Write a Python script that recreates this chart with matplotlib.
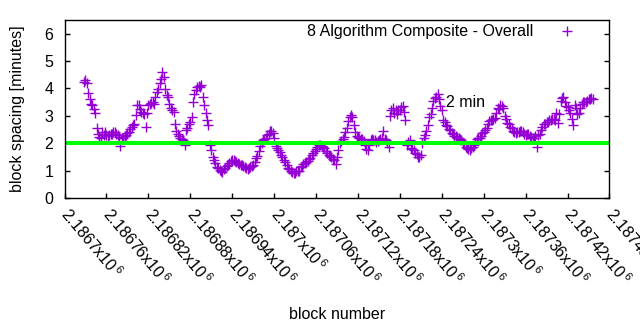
import matplotlib
matplotlib.use('Agg')
import matplotlib.pyplot as plt
import numpy as np

plt.rcParams['font.family'] = ['Liberation Sans', 'DejaVu Sans']
plt.rcParams['mathtext.default'] = 'regular'
plt.rcParams['font.size'] = 11.5

# block spacing (minutes), sampled every 4 blocks starting at first_block
first_block = 2186728
block_step = 4
spacing_a = [
    4.25, 4.20, 3.60, 3.38, 3.10, 2.35, 2.20, 2.30, 2.30, 2.30,
    2.35, 2.40, 2.30, 1.90, 2.20, 2.30, 2.42, 2.58, 2.72, 3.40,
    3.25, 3.10, 2.60, 3.40, 3.47, 3.45, 3.87, 4.20, 4.60, 3.99,
    3.70, 3.30, 3.15, 2.45, 2.28, 2.15, 1.95, 2.55, 2.77, 3.50,
    3.95, 4.10, 4.12, 3.40, 2.85, 1.95, 1.50, 1.28, 1.10, 0.98,
    1.05, 1.16, 1.28, 1.38, 1.36, 1.28, 1.22, 1.17, 1.10, 1.08,
    1.16, 1.30, 1.55, 1.90, 2.10, 2.20, 2.35, 2.45, 2.20, 1.82,
    1.68, 1.48, 1.30, 1.10, 1.00, 0.93, 1.00, 0.97, 1.16, 1.27,
    1.34, 1.47, 1.64, 1.78, 1.92, 1.89, 1.82, 1.65, 1.54, 1.44,
    1.25, 1.75, 2.08, 2.22, 2.55, 2.95, 2.97, 2.40, 2.22, 2.16,
    2.08, 1.80, 1.95, 2.17, 2.10, 2.07, 2.15, 2.45, 2.12, 1.85,
    3.20, 3.10, 3.08, 3.22, 3.36, 2.85, 2.05, 1.82, 1.77, 1.60,
    1.48, 2.00, 2.29, 2.65, 3.05, 3.56, 3.70, 3.60, 3.20, 2.78,
    2.63, 2.47, 2.32, 2.25, 2.20, 2.10, 1.98, 1.83, 1.77, 1.88,
    2.05, 2.20, 2.25, 2.40, 2.55, 2.80, 2.85, 2.93, 3.30, 3.38,
    3.30, 2.90, 2.70, 2.56, 2.42, 2.40, 2.44, 2.40, 2.30, 2.32,
    2.23, 2.20, 1.88, 2.35, 2.60, 2.72, 2.78, 2.86, 2.88, 3.10,
    3.08, 3.65, 3.50, 3.32, 3.10, 2.65, 3.30, 3.10, 3.45, 3.50,
    3.55, 3.63, 3.60,
]
# the blocks in between (first_block + 2, every 4 blocks)
spacing_b = [
    4.30, 3.85, 3.45, 3.25, 2.55, 2.23, 2.40, 2.41, 2.25, 2.33,
    2.41, 2.35, 2.23, 2.20, 2.25, 2.38, 2.53, 2.65, 3.02, 3.38,
    3.14, 3.05, 3.10, 3.44, 3.50, 3.70, 3.99, 4.35, 4.41, 3.75,
    3.45, 3.20, 2.71, 2.35, 2.20, 2.10, 2.47, 2.70, 2.95, 3.81,
    4.05, 4.07, 3.68, 3.10, 2.65, 1.75, 1.38, 1.15, 1.02, 0.96,
    1.10, 1.22, 1.35, 1.40, 1.32, 1.24, 1.20, 1.14, 1.06, 1.12,
    1.22, 1.45, 1.70, 2.00, 2.15, 2.30, 2.45, 2.38, 1.90, 1.75,
    1.58, 1.38, 1.20, 1.05, 0.96, 0.90, 0.98, 1.12, 1.24, 1.32,
    1.41, 1.58, 1.72, 1.86, 1.93, 1.86, 1.72, 1.56, 1.50, 1.38,
    1.50, 2.02, 2.15, 2.40, 2.80, 3.02, 2.65, 2.25, 2.18, 2.15,
    1.95, 1.75, 2.10, 2.12, 2.05, 2.10, 2.20, 2.17, 2.00, 3.00,
    3.30, 3.20, 3.20, 3.32, 3.15, 1.95, 2.10, 1.80, 1.65, 1.50,
    1.56, 2.20, 2.45, 2.95, 3.30, 3.65, 3.78, 3.35, 2.85, 2.68,
    2.53, 2.38, 2.27, 2.22, 2.15, 2.02, 1.88, 1.78, 1.84, 1.95,
    2.15, 2.20, 2.38, 2.47, 2.71, 2.84, 2.90, 3.10, 3.25, 3.35,
    3.00, 2.75, 2.59, 2.45, 2.38, 2.42, 2.43, 2.32, 2.34, 2.25,
    2.20, 2.25, 2.30, 2.50, 2.70, 2.76, 2.84, 2.90, 2.84, 2.75,
    3.55, 3.70, 3.35, 3.20, 2.90, 3.38, 3.08, 3.30, 3.50, 3.52,
    3.60, 3.65,
]
blocks_a = first_block + block_step * np.arange(len(spacing_a))
blocks_b = first_block + 2 + block_step * np.arange(len(spacing_b))
blocks = np.concatenate([blocks_a, blocks_b])
spacing = np.concatenate([spacing_a, spacing_b])

target_minutes = 2
x_range = (2186700, 2187480)
x_ticks = np.arange(2186700, 2187481, 60)

fig = plt.figure(figsize=(6.4, 3.3), dpi=100)
ax = fig.add_axes([0.1008, 0.4, 0.8515, 0.5394])

ax.plot(blocks, spacing, linestyle='none', marker='+', color='#9400d3',
        markersize=6.5, markeredgewidth=1.0, label='8 Algorithm Composite - Overall')
ax.axhline(target_minutes, xmin=0.005, xmax=0.996, color='#00ff00', linewidth=2.9)
ax.text(2187246, 3.5, '2 min', ha='left', va='center')

ax.set_xlim(*x_range)
ax.set_ylim(0, 6.5)
ax.set_yticks(range(0, 7))
ax.set_xticks(x_ticks)
ax.set_xticklabels([f'{v / 1e6:g}x10$^{{\\,6}}$' for v in x_ticks],
                   rotation=-50, ha='left', va='center', rotation_mode='anchor')

ax.tick_params(axis='both', direction='in', length=3.5, width=1)
ax.tick_params(axis='y', right=True, pad=8)
ax.tick_params(axis='x', pad=9)
for sp in ax.spines.values():
    sp.set_linewidth(1.0)

ax.set_xlabel('block number', va='center')
ax.xaxis.set_label_coords(0.5, -0.657)
ax.set_ylabel('block spacing [minutes]', va='center')
ax.yaxis.set_label_coords(-0.087, 0.5)

ax.legend(loc='center right', bbox_to_anchor=(0.9514, 0.9326), frameon=False,
          markerfirst=False, borderaxespad=0, borderpad=0,
          handlelength=2, handletextpad=1.1)

fig.savefig('out.png', dpi=100)
